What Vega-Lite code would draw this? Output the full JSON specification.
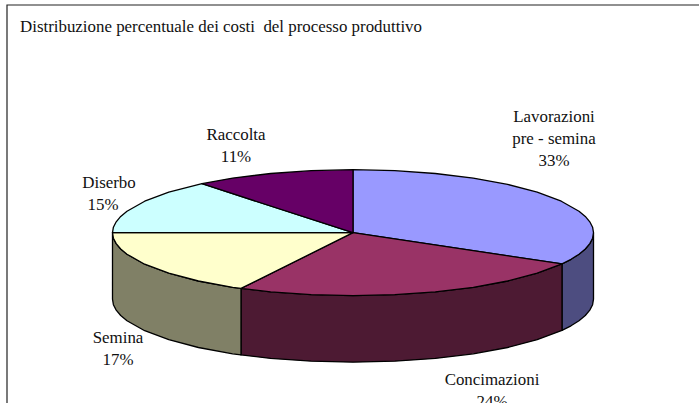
{"$schema":"https://vega.github.io/schema/vega-lite/v6.json","width":699,"height":403,"padding":0,"autosize":{"type":"none"},"background":"white","view":{"stroke":null},
"datasets":{"slices":[
{"s":"Lav side","i":0,"x":593.5,"y":232.7},{"s":"Lav side","i":1,"x":592.6,"y":238.2},{"s":"Lav side","i":2,"x":589.8,"y":243.6},{"s":"Lav side","i":3,"x":585.3,"y":249.0},{"s":"Lav side","i":4,"x":579.0,"y":254.2},{"s":"Lav side","i":5,"x":571.0,"y":259.3},{"s":"Lav side","i":6,"x":562,"y":263.9},{"s":"Lav side","i":7,"x":562,"y":330.4},{"s":"Lav side","i":8,"x":571.0,"y":325.8},{"s":"Lav side","i":9,"x":579.0,"y":320.7},{"s":"Lav side","i":10,"x":585.3,"y":315.5},{"s":"Lav side","i":11,"x":589.8,"y":310.1},{"s":"Lav side","i":12,"x":592.6,"y":304.7},{"s":"Lav side","i":13,"x":593.5,"y":299.2},{"s":"Lav side","i":14,"x":593.5,"y":232.7},
{"s":"Con side","i":0,"x":562,"y":263.9},{"s":"Con side","i":1,"x":537.2,"y":273.2},{"s":"Con side","i":2,"x":507.6,"y":281.0},{"s":"Con side","i":3,"x":473.3,"y":287.3},{"s":"Con side","i":4,"x":435.3,"y":291.9},{"s":"Con side","i":5,"x":394.8,"y":294.7},{"s":"Con side","i":6,"x":353,"y":295.7},{"s":"Con side","i":7,"x":311.2,"y":294.7},{"s":"Con side","i":8,"x":270.7,"y":291.9},{"s":"Con side","i":9,"x":241,"y":288.4},{"s":"Con side","i":10,"x":241,"y":354.9},{"s":"Con side","i":11,"x":270.7,"y":358.4},{"s":"Con side","i":12,"x":311.2,"y":361.2},{"s":"Con side","i":13,"x":353,"y":362.2},{"s":"Con side","i":14,"x":394.8,"y":361.2},{"s":"Con side","i":15,"x":435.3,"y":358.4},{"s":"Con side","i":16,"x":473.3,"y":353.8},{"s":"Con side","i":17,"x":507.6,"y":347.5},{"s":"Con side","i":18,"x":537.2,"y":339.7},{"s":"Con side","i":19,"x":562,"y":330.4},{"s":"Con side","i":20,"x":562,"y":263.9},
{"s":"Sem side","i":0,"x":241,"y":288.4},{"s":"Sem side","i":1,"x":232.7,"y":287.3},{"s":"Sem side","i":2,"x":198.4,"y":281.0},{"s":"Sem side","i":3,"x":168.8,"y":273.2},{"s":"Sem side","i":4,"x":144.7,"y":264.2},{"s":"Sem side","i":5,"x":127.0,"y":254.2},{"s":"Sem side","i":6,"x":120.7,"y":249.0},{"s":"Sem side","i":7,"x":116.2,"y":243.6},{"s":"Sem side","i":8,"x":113.4,"y":238.2},{"s":"Sem side","i":9,"x":112.5,"y":232.7},{"s":"Sem side","i":10,"x":112.5,"y":299.2},{"s":"Sem side","i":11,"x":113.4,"y":304.7},{"s":"Sem side","i":12,"x":116.2,"y":310.1},{"s":"Sem side","i":13,"x":120.7,"y":315.5},{"s":"Sem side","i":14,"x":127.0,"y":320.7},{"s":"Sem side","i":15,"x":144.7,"y":330.7},{"s":"Sem side","i":16,"x":168.8,"y":339.7},{"s":"Sem side","i":17,"x":198.4,"y":347.5},{"s":"Sem side","i":18,"x":232.7,"y":353.8},{"s":"Sem side","i":19,"x":241,"y":354.9},{"s":"Sem side","i":20,"x":241,"y":288.4},
{"s":"Lavorazioni","i":0,"x":353,"y":232.7},{"s":"Lavorazioni","i":1,"x":353,"y":169.7},{"s":"Lavorazioni","i":2,"x":394.8,"y":170.7},{"s":"Lavorazioni","i":3,"x":435.3,"y":173.5},{"s":"Lavorazioni","i":4,"x":473.3,"y":178.1},{"s":"Lavorazioni","i":5,"x":507.6,"y":184.4},{"s":"Lavorazioni","i":6,"x":537.2,"y":192.2},{"s":"Lavorazioni","i":7,"x":561.3,"y":201.2},{"s":"Lavorazioni","i":8,"x":579.0,"y":211.2},{"s":"Lavorazioni","i":9,"x":585.3,"y":216.4},{"s":"Lavorazioni","i":10,"x":589.8,"y":221.8},{"s":"Lavorazioni","i":11,"x":592.6,"y":227.2},{"s":"Lavorazioni","i":12,"x":593.5,"y":232.7},{"s":"Lavorazioni","i":13,"x":592.6,"y":238.2},{"s":"Lavorazioni","i":14,"x":589.8,"y":243.6},{"s":"Lavorazioni","i":15,"x":585.3,"y":249.0},{"s":"Lavorazioni","i":16,"x":579.0,"y":254.2},{"s":"Lavorazioni","i":17,"x":571.0,"y":259.3},{"s":"Lavorazioni","i":18,"x":562,"y":263.9},{"s":"Lavorazioni","i":19,"x":353,"y":232.7},
{"s":"Concimazioni","i":0,"x":353,"y":232.7},{"s":"Concimazioni","i":1,"x":562,"y":263.9},{"s":"Concimazioni","i":2,"x":537.2,"y":273.2},{"s":"Concimazioni","i":3,"x":507.6,"y":281.0},{"s":"Concimazioni","i":4,"x":473.3,"y":287.3},{"s":"Concimazioni","i":5,"x":435.3,"y":291.9},{"s":"Concimazioni","i":6,"x":394.8,"y":294.7},{"s":"Concimazioni","i":7,"x":353,"y":295.7},{"s":"Concimazioni","i":8,"x":311.2,"y":294.7},{"s":"Concimazioni","i":9,"x":270.7,"y":291.9},{"s":"Concimazioni","i":10,"x":241,"y":288.4},{"s":"Concimazioni","i":11,"x":353,"y":232.7},
{"s":"Semina","i":0,"x":353,"y":232.7},{"s":"Semina","i":1,"x":241,"y":288.4},{"s":"Semina","i":2,"x":232.7,"y":287.3},{"s":"Semina","i":3,"x":198.4,"y":281.0},{"s":"Semina","i":4,"x":168.8,"y":273.2},{"s":"Semina","i":5,"x":144.7,"y":264.2},{"s":"Semina","i":6,"x":127.0,"y":254.2},{"s":"Semina","i":7,"x":120.7,"y":249.0},{"s":"Semina","i":8,"x":116.2,"y":243.6},{"s":"Semina","i":9,"x":113.4,"y":238.2},{"s":"Semina","i":10,"x":112.5,"y":232.7},{"s":"Semina","i":11,"x":353,"y":232.7},
{"s":"Diserbo","i":0,"x":353,"y":232.7},{"s":"Diserbo","i":1,"x":112.5,"y":232.7},{"s":"Diserbo","i":2,"x":113.4,"y":227.2},{"s":"Diserbo","i":3,"x":116.2,"y":221.8},{"s":"Diserbo","i":4,"x":120.7,"y":216.4},{"s":"Diserbo","i":5,"x":127.0,"y":211.2},{"s":"Diserbo","i":6,"x":144.7,"y":201.2},{"s":"Diserbo","i":7,"x":168.8,"y":192.2},{"s":"Diserbo","i":8,"x":202,"y":183.7},{"s":"Diserbo","i":9,"x":353,"y":232.7},
{"s":"Raccolta","i":0,"x":353,"y":232.7},{"s":"Raccolta","i":1,"x":202,"y":183.7},{"s":"Raccolta","i":2,"x":232.7,"y":178.1},{"s":"Raccolta","i":3,"x":270.7,"y":173.5},{"s":"Raccolta","i":4,"x":311.2,"y":170.7},{"s":"Raccolta","i":5,"x":353,"y":169.7},{"s":"Raccolta","i":6,"x":353,"y":232.7}
],
"frame":[{"i":0,"x":7,"y":403},{"i":1,"x":7,"y":5},{"i":2,"x":699,"y":5}],
"labels":[
{"t":"Distribuzione percentuale dei costi \u00a0del processo produttivo","x":20,"y":27,"a":"left"},
{"t":"Raccolta","x":236,"y":135,"a":"center"},{"t":"11%","x":236,"y":157,"a":"center"},
{"t":"Lavorazioni","x":554,"y":117,"a":"center"},{"t":"pre - semina","x":554,"y":139,"a":"center"},{"t":"33%","x":554,"y":161,"a":"center"},
{"t":"Diserbo","x":109,"y":183,"a":"center"},{"t":"15%","x":103,"y":205,"a":"center"},
{"t":"Semina","x":118,"y":338,"a":"center"},{"t":"17%","x":118,"y":360,"a":"center"},
{"t":"Concimazioni","x":492,"y":380,"a":"center"},{"t":"24%","x":492,"y":402,"a":"center"}
]},
"layer":[
{"data":{"name":"frame"},"mark":{"type":"line","stroke":"#222222","strokeWidth":1.2,"clip":false},"encoding":{"x":{"field":"x","type":"quantitative","scale":{"domain":[0,699],"nice":false,"zero":false},"axis":null},"y":{"field":"y","type":"quantitative","scale":{"domain":[403,0],"nice":false,"zero":false},"axis":null},"order":{"field":"i","type":"ordinal"}}},
{"data":{"name":"slices"},"mark":{"type":"line","stroke":"black","strokeWidth":1.3,"strokeJoin":"round","interpolate":"linear"},"encoding":{"x":{"field":"x","type":"quantitative","axis":null},"y":{"field":"y","type":"quantitative","axis":null},"order":{"field":"i","type":"quantitative"},"fill":{"field":"s","type":"nominal","legend":null,"sort":null,"scale":{"domain":["Lav side","Con side","Sem side","Lavorazioni","Concimazioni","Semina","Diserbo","Raccolta"],"range":["#4D4D80","#4D1A33","#808066","#9999FF","#993366","#FFFFCC","#CCFFFF","#660066"]}}}},
{"data":{"name":"labels"},"transform":[{"filter":"datum.a==='left'"}],"mark":{"type":"text","font":"Liberation Serif","fontSize":16.9,"align":"left","baseline":"middle","color":"#111111"},"encoding":{"x":{"field":"x","type":"quantitative","axis":null},"y":{"field":"y","type":"quantitative","axis":null},"text":{"field":"t"}}},
{"data":{"name":"labels"},"transform":[{"filter":"datum.a==='center'"}],"mark":{"type":"text","font":"Liberation Serif","fontSize":16.9,"align":"center","baseline":"middle","color":"#111111"},"encoding":{"x":{"field":"x","type":"quantitative","axis":null},"y":{"field":"y","type":"quantitative","axis":null},"text":{"field":"t"}}}
]}
